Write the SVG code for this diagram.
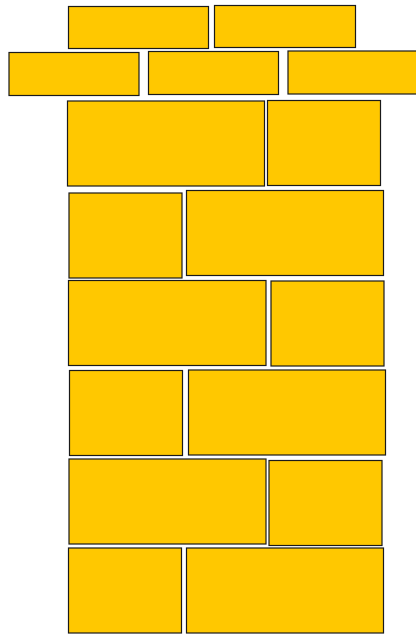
<svg xmlns="http://www.w3.org/2000/svg" width="416" height="635" viewBox="0 0 416 635">
<style>
.b{fill:#FFC800;stroke:#1a1a1a;stroke-width:1.2}
</style>
<rect width="416" height="635" fill="#fff"/>
<g id="brick-a"><rect class="b" x="68.5" y="6.5" width="140" height="42"/></g>
<g id="brick-b"><rect class="b" x="214.5" y="5.5" width="141" height="42"/></g>
<g id="brick-c"><rect class="b" x="9" y="52.5" width="130" height="43"/></g>
<g id="brick-d"><rect class="b" x="148.5" y="51.5" width="130" height="43"/></g>
<g id="brick-e"><rect class="b" x="288" y="51" width="132" height="43"/></g>
<g id="brick-f"><rect class="b" x="67.5" y="101" width="197" height="85"/></g>
<g id="brick-g"><rect class="b" x="267.5" y="100.5" width="113" height="85"/></g>
<g id="brick-h"><rect class="b" x="69" y="193" width="113" height="85"/></g>
<g id="brick-i"><rect class="b" x="186.5" y="190.5" width="197" height="85"/></g>
<g id="brick-j"><rect class="b" x="68.5" y="280.5" width="197.5" height="85"/></g>
<g id="brick-k"><rect class="b" x="271" y="281" width="113" height="85"/></g>
<g id="brick-l"><rect class="b" x="69.5" y="370.5" width="113" height="85"/></g>
<g id="brick-m"><rect class="b" x="188.5" y="370" width="197" height="85"/></g>
<g id="brick-n"><rect class="b" x="69" y="459" width="197" height="85"/></g>
<g id="brick-o"><rect class="b" x="269" y="460.5" width="113" height="85"/></g>
<g id="brick-p"><rect class="b" x="68.5" y="548" width="113" height="85"/></g>
<g id="brick-q"><rect class="b" x="186.5" y="548" width="197" height="85"/></g>
<g id="connectors"></g>
</svg>
